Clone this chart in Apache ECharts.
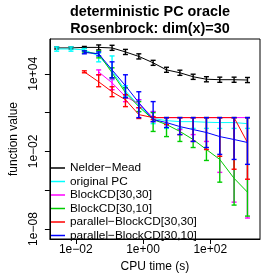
<!DOCTYPE html>
<html><head><meta charset="utf-8">
<script src="https://cdn.jsdelivr.net/npm/echarts@6/dist/echarts.min.js"></script>
<style>html,body{margin:0;padding:0;background:#fff}#c{width:280px;height:280px}</style>
</head><body><div id="c"></div>
<script>
// ---- data ----
const titleLines = ['deterministic PC oracle', 'Rosenbrock: dim(x)=30'];
const xAxisName = 'CPU time (s)';
const yAxisName = 'function value';
const xTickExponents = [-2, 0, 2];
const yTickExponents = [-8, -5, -2, 1, 4];
const yLabelExponents = [-8, -2, 4];

const cpuTime = [0.0027, 0.0072, 0.018, 0.048, 0.12, 0.30, 0.75, 2.0, 5.0, 12.5, 31, 77, 192, 512, 1280];

const seriesNames = ['Nelder\u2212Mead', 'original PC', 'BlockCD[30,30]', 'BlockCD[30,10]', 'parallel\u2212BlockCD[30,30]', 'parallel\u2212BlockCD[30,10]'];
const seriesColors = ['#000000', '#00FFFF', '#FF00FF', '#00CD00', '#FF0000', '#0000FF'];

const nelderMeadVal = [1.0e6, 1.0e6, 1.1e6, 1.1e6, 1.0e6, 4.9e5, 2.2e5, 7.1e4, 2.0e4, 1.2e4, 5.9e3, 3.8e3, 3.5e3, 3.5e3, 3.3e3];
const nelderMeadLo  = [8.3e5, 8.3e5, 9.2e5, 7.0e5, 6.5e5, 3.1e5, 1.4e5, 4.5e4, 1.3e4, 7.6e3, 3.7e3, 2.4e3, 2.2e3, 2.2e3, 2.1e3];
const nelderMeadHi  = [1.2e6, 1.2e6, 1.3e6, 1.7e6, 1.6e6, 7.7e5, 3.5e5, 1.1e5, 3.2e4, 1.9e4, 9.3e3, 6.0e3, 5.5e3, 5.5e3, 5.2e3];

const originalPCVal = [8.3e5, 8.3e5, 7.1e5, 2.4e5, 1.7e4, 490, 35, 3.5, 2.4, 2.0, 2.0, 1.8, 1.7, 1.7, 1.4];
const originalPCLo  = [5.6e5, 5.6e5, 5.5e5, 8.4e4, 3.5e3, 170, 12, 1.4, 0.6, 0.6, 0.6, 0.6, 0.6, 0.6, 0.6];
const originalPCHi  = [1.2e6, 1.2e6, 9.0e5, 4.1e5, 2.4e5, 1.2e3, 100, 12, 4.1, 4.1, 4.1, 4.1, 4.1, 4.1, 4.1];

const blockCD3030Val = [null, null, null, 1.4e4, 2.0e3, 170, 49, 4.1, 4.1, 4.1, 4.1, 4.1, 4.1, 4.1, 4.1];
const blockCD3030Lo  = [null, null, null, 8.4e3, 590, 70, 24, 2.0, 1.2, 0.49, 0.2, 0.059, 2.4e-4, 1.2e-6, 7.1e-8];
const blockCD3030Hi  = [null, null, null, 2.0e4, 4.1e3, 240, 100, 12, 4.1, 4.1, 4.1, 4.1, 4.1, 4.1, 4.1];

const blockCD3010Val = [null, null, 4.9e5, 3.5e5, 1.2e4, 350, 29, 2.9, 1.2, 0.35, 0.083, 0.014, 2.4e-3, 8.3e-5, 7.1e-6];
const blockCD3010Lo  = [null, null, 4.1e5, 1.7e5, 4.9e3, 140, 12, 0.35, 0.14, 0.059, 0.02, 2.0e-3, 4.2e-5, 7.1e-7, 1.0e-7];
const blockCD3010Hi  = [null, null, 5.9e5, 5.9e5, 2.9e4, 830, 71, 10, 4.1, 4.1, 4.1, 4.1, 4.1, 4.1, 4.1];

const parBlockCD3030Val = [null, null, 1.4e4, 2.4e3, 410, 100, 7.0, 4.1, 4.1, 4.1, 4.1, 4.1, 4.1, 4.1, 0.049];
const parBlockCD3030Lo  = [null, null, 1.2e4, 1.0e3, 170, 29, 3.5, 2.9, 1.2, 0.2, 0.059, 0.014, 4.2e-3, 4.2e-4, 7.1e-5];
const parBlockCD3030Hi  = [null, null, 1.7e4, 8.4e3, 1.0e3, 240, 24, 4.9, 4.1, 4.1, 4.1, 4.1, 4.1, 4.1, 4.1];

const parBlockCD3010Val = [null, null, 4.5e5, 3.5e5, 2.0e4, 1.2e3, 59, 2.9, 1.7, 0.83, 0.49, 0.29, 0.14, 0.083, 0.049];
const parBlockCD3010Lo  = [null, null, 3.5e5, 2.4e5, 4.9e3, 140, 4.1, 2.0, 0.71, 0.2, 0.059, 0.02, 5.9e-3, 2.4e-3, 1.0e-3];
const parBlockCD3010Hi  = [null, null, 5.9e5, 4.9e5, 8.4e4, 8.4e3, 410, 71, 4.1, 4.1, 4.1, 4.1, 4.1, 4.1, 4.1];

const seriesVals = [nelderMeadVal, originalPCVal, blockCD3030Val, blockCD3010Val, parBlockCD3030Val, parBlockCD3010Val];
const seriesLos  = [nelderMeadLo, originalPCLo, blockCD3030Lo, blockCD3010Lo, parBlockCD3030Lo, parBlockCD3010Lo];
const seriesHis  = [nelderMeadHi, originalPCHi, blockCD3030Hi, blockCD3010Hi, parBlockCD3030Hi, parBlockCD3010Hi];

// ---- chart ----
const FONT = '"Liberation Sans", Arial, Helvetica, sans-serif';
const lg = Math.log10;
function expLabel(v) {
  const e = Math.round(v);
  const s = String(Math.abs(e)).padStart(2, '0');
  return '1e' + (e < 0 ? '\u2212' : '+') + s;
}

const series = [];
seriesNames.forEach((name, i) => {
  const color = seriesColors[i];
  const line = [], bars = [];
  cpuTime.forEach((t, j) => {
    if (seriesVals[i][j] == null) return;
    line.push([lg(t), lg(seriesVals[i][j])]);
    bars.push([lg(t), lg(seriesLos[i][j]), lg(seriesHis[i][j])]);
  });
  series.push({
    name: name, type: 'line', data: line, showSymbol: false, symbol: 'none',
    lineStyle: { color: color, width: 1 }, itemStyle: { color: color },
    z: 2 + i * 2, animation: false
  });
  series.push({
    name: name + ' err', type: 'custom', data: bars, z: 3 + i * 2,
    encode: { x: 0, y: [1, 2] }, animation: false,
    renderItem: function (params, api) {
      const x = api.value(0);
      const p1 = api.coord([x, api.value(1)]);
      const p2 = api.coord([x, api.value(2)]);
      const w = 2.5;
      const st = { stroke: color, lineWidth: 1.4 };
      return { type: 'group', children: [
        { type: 'line', shape: { x1: p1[0], y1: p1[1], x2: p2[0], y2: p2[1] }, style: st },
        { type: 'line', shape: { x1: p1[0] - w, y1: p1[1], x2: p1[0] + w, y2: p1[1] }, style: st },
        { type: 'line', shape: { x1: p2[0] - w, y1: p2[1], x2: p2[0] + w, y2: p2[1] }, style: st }
      ]};
    }
  });
});

const chart = echarts.init(document.getElementById('c'), null, { renderer: 'canvas' });
chart.setOption({
  animation: false,
  backgroundColor: '#ffffff',
  textStyle: { fontFamily: FONT },
  grid: { left: 40, right: 20, top: 39, bottom: 41, show: true, borderColor: '#000', borderWidth: 1, backgroundColor: 'transparent' },
  graphic: [
    { type: 'text', x: 150, y: 12, style: { text: titleLines[0], font: 'bold 14.4px ' + FONT, fill: '#000', align: 'center', verticalAlign: 'middle' } },
    { type: 'text', x: 150, y: 29, style: { text: titleLines[1], font: 'bold 14.4px ' + FONT, fill: '#000', align: 'center', verticalAlign: 'middle' } }
  ],
  legend: {
    data: seriesNames, orient: 'vertical', left: 46, top: 156.5,
    icon: 'rect', itemWidth: 14, itemHeight: 1.5, itemGap: 0.5,
    textStyle: { fontSize: 11.8, lineHeight: 13, color: '#000', fontFamily: FONT },
    selectedMode: false
  },
  xAxis: {
    type: 'value', min: -2.77, max: 3.48,
    name: xAxisName, nameLocation: 'middle', nameGap: 21,
    nameTextStyle: { fontSize: 12, color: '#000', fontFamily: FONT },
    axisLine: { show: true, onZero: false, lineStyle: { color: '#000', width: 1 } },
    axisTick: { show: true, length: 5, customValues: xTickExponents, lineStyle: { color: '#000' } },
    axisLabel: { customValues: xTickExponents, formatter: expLabel, fontSize: 12, color: '#000', margin: 5, fontFamily: FONT },
    splitLine: { show: false }
  },
  yAxis: {
    type: 'value', min: -8.77, max: 6.69,
    name: yAxisName, nameLocation: 'middle', nameGap: 24, nameRotate: 90,
    nameTextStyle: { fontSize: 12, color: '#000', fontFamily: FONT },
    axisLine: { show: true, onZero: false, lineStyle: { color: '#000', width: 1 } },
    axisTick: { show: true, length: 5, customValues: yTickExponents, lineStyle: { color: '#000' } },
    axisLabel: { customValues: yLabelExponents, formatter: expLabel, fontSize: 12, color: '#000', margin: 10, rotate: 90, fontFamily: FONT },
    splitLine: { show: false }
  },
  series: series
});
</script>
</body></html>
